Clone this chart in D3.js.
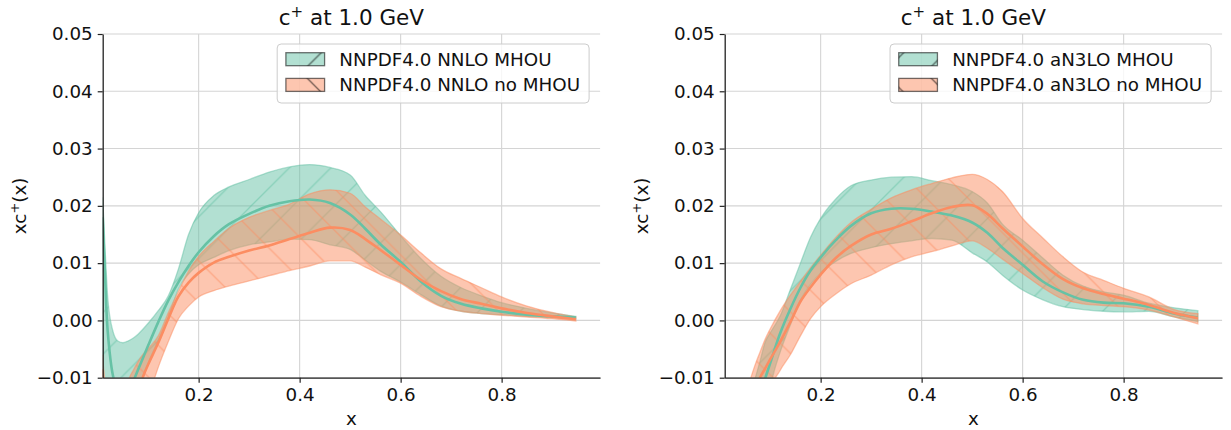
<!DOCTYPE html>
<html><head><meta charset="utf-8">
<script src="https://cdn.jsdelivr.net/npm/d3@7"></script>
<style>
body{margin:0;background:#fff}
text{font-family:"DejaVu Sans",sans-serif}
</style>
</head><body>
<svg id="c" width="1231" height="430"></svg>
<script>
// ---------------- data ----------------
const X_TICKS = [0.2, 0.4, 0.6, 0.8];
const Y_TICKS = [-0.01, 0.0, 0.01, 0.02, 0.03, 0.04, 0.05];
const TITLE_REST = "at 1.0 GeV";
const LEGEND_LEFT = ["NNPDF4.0 NNLO MHOU", "NNPDF4.0 NNLO no MHOU"];
const LEGEND_RIGHT = ["NNPDF4.0 aN3LO MHOU", "NNPDF4.0 aN3LO no MHOU"];

// left panel (NNLO)
const xLeft = [0.01,0.015,0.02,0.03,0.04,0.05,0.06,0.07,0.08,0.09,0.1,0.12,0.14,0.16,0.18,0.2,0.23,0.26,0.3,0.34,0.38,0.42,0.46,0.5,0.53,0.56,0.6,0.64,0.68,0.72,0.76,0.8,0.85,0.9,0.947];
const nnloMhouCentral = [0.018,0.007,-0.002,-0.0095,-0.0125,-0.0135,-0.013,-0.0108,-0.0086,-0.0065,-0.0044,-0.0003,0.0035,0.0067,0.0095,0.0119,0.0147,0.0168,0.0186,0.02,0.0208,0.0211,0.0205,0.0185,0.016,0.0133,0.0102,0.0068,0.0043,0.0029,0.0021,0.0015,0.001,0.0007,0.0005];
const nnloMhouUpper = [0.0215,0.012,0.004,-0.0018,-0.0036,-0.0039,-0.0036,-0.0031,-0.0024,-0.0015,-0.0005,0.0017,0.0043,0.009,0.015,0.0188,0.0218,0.0233,0.0246,0.0259,0.0268,0.0272,0.0267,0.0254,0.0218,0.019,0.0148,0.0108,0.0077,0.0057,0.0043,0.0031,0.0021,0.0013,0.0007];
const nnloMhouLower = [-0.03,-0.03,-0.03,-0.03,-0.028,-0.024,-0.018,-0.0135,-0.0118,-0.0098,-0.0075,-0.0035,0.0005,0.0055,0.0081,0.0097,0.011,0.0122,0.0132,0.0137,0.0142,0.0141,0.0132,0.0124,0.0105,0.0086,0.0067,0.0045,0.0025,0.0016,0.0012,0.001,0.0007,0.0005,0.0003];
const nnloNoMhouCentral = [-0.0085,-0.018,-0.025,-0.028,-0.028,-0.026,-0.022,-0.017,-0.0127,-0.0098,-0.0077,-0.0039,0.0003,0.0042,0.0066,0.0083,0.0101,0.0111,0.0122,0.0131,0.0142,0.0153,0.0162,0.0158,0.0142,0.0123,0.0097,0.0071,0.0051,0.0037,0.0029,0.0021,0.0013,0.0007,0.0002];
const nnloNoMhouUpper = [-0.006,-0.013,-0.019,-0.024,-0.022,-0.016,-0.0108,-0.0088,-0.0072,-0.0059,-0.0049,-0.0027,0.0014,0.0051,0.0086,0.0112,0.0138,0.0161,0.018,0.0192,0.0203,0.0221,0.0228,0.0222,0.0198,0.0177,0.0149,0.0118,0.009,0.0073,0.0057,0.0041,0.0025,0.0014,0.0006];
const nnloNoMhouLower = [-0.013,-0.025,-0.03,-0.03,-0.03,-0.03,-0.03,-0.026,-0.02,-0.016,-0.0135,-0.0082,-0.0037,0.0003,0.0025,0.0041,0.0052,0.006,0.0069,0.0078,0.0087,0.0095,0.0104,0.0104,0.0093,0.008,0.0065,0.0042,0.0024,0.0016,0.0012,0.0009,0.0006,0.0003,-0.0001];

// right panel (aN3LO)
const xRight = [0.03,0.05,0.06,0.07,0.08,0.09,0.1,0.12,0.14,0.16,0.18,0.2,0.23,0.26,0.3,0.34,0.38,0.42,0.46,0.5,0.53,0.56,0.6,0.64,0.68,0.72,0.76,0.8,0.85,0.9,0.947];
const n3loMhouCentral = [-0.04,-0.025,-0.021,-0.017,-0.0133,-0.0102,-0.0075,-0.0022,0.002,0.0057,0.0087,0.011,0.014,0.0165,0.0187,0.0195,0.0195,0.019,0.0183,0.0171,0.0153,0.0127,0.0097,0.0068,0.0049,0.0036,0.0031,0.003,0.0024,0.0012,0.0005];
const n3loMhouUpper = [-0.03,-0.016,-0.013,-0.0102,-0.0071,-0.0038,-0.0022,0.0008,0.0054,0.01,0.0145,0.0178,0.0212,0.0235,0.0245,0.025,0.0251,0.0244,0.0237,0.0225,0.0205,0.0168,0.014,0.0109,0.0079,0.006,0.005,0.0044,0.003,0.0022,0.0017];
const n3loMhouLower = [-0.05,-0.04,-0.035,-0.03,-0.025,-0.017,-0.0118,-0.0055,-0.0008,0.0035,0.0063,0.0083,0.0103,0.0117,0.0127,0.0134,0.0139,0.0143,0.014,0.0118,0.0102,0.0079,0.0053,0.0036,0.0024,0.0019,0.0016,0.0015,0.0016,0.0006,-0.0002];
const n3loNoMhouCentral = [-0.03,-0.018,-0.015,-0.0125,-0.01,-0.0084,-0.0068,-0.0037,-0.0003,0.0033,0.0058,0.008,0.0109,0.013,0.015,0.016,0.0173,0.0187,0.0198,0.0201,0.0186,0.0161,0.0129,0.0098,0.0072,0.0056,0.0046,0.0038,0.0027,0.0013,0.0004];
const n3loNoMhouUpper = [-0.025,-0.0135,-0.0105,-0.0078,-0.0055,-0.0033,-0.0015,0.0017,0.0044,0.0068,0.0092,0.0114,0.0145,0.0171,0.0194,0.0214,0.0228,0.0239,0.0249,0.0255,0.0246,0.0225,0.0178,0.0144,0.0111,0.0084,0.007,0.0056,0.0041,0.0019,0.0012];
const n3loNoMhouLower = [-0.04,-0.03,-0.027,-0.024,-0.021,-0.018,-0.0125,-0.0087,-0.006,-0.0027,0.0003,0.0024,0.0046,0.0064,0.0079,0.0097,0.0111,0.012,0.013,0.0139,0.0126,0.0107,0.0082,0.0057,0.0037,0.0029,0.0026,0.0024,0.0018,0.0006,-0.0006];

// ---------------- style / layout ----------------
const GREEN = "#66c2a5", ORANGE = "#fc8d62";
const X_DOMAIN = [0.01, 0.995];
const Y_DOMAIN = [-0.01, 0.05];
const Y_TOP = 34, Y_BOTTOM = 377.7;
const HATCH = 41.6;
const FS = 18.3;

const svg = d3.select("#c");
const defs = svg.append("defs");

function makeHatch(id, dir, color, op) {
  const S = HATCH;
  const p = defs.append("pattern").attr("id", id)
    .attr("patternUnits", "userSpaceOnUse")
    .attr("width", S).attr("height", S)
    .attr("x", dir === "/" ? S - 0.5 : 21).attr("y", 0);
  const d = dir === "/"
    ? `M0,${S}L${S},0M${-S/2},${S/2}L${S/2},${-S/2}M${S/2},${S*1.5}L${S*1.5},${S/2}`
    : `M0,0L${S},${S}M${S/2},${-S/2}L${S*1.5},${S/2}M${-S/2},${S/2}L${S/2},${S*1.5}`;
  p.append("path").attr("d", d).attr("fill", "none")
    .attr("stroke", color).attr("stroke-opacity", op).attr("stroke-width", 1.3);
}
makeHatch("hG", "/", GREEN, 0.55);
makeHatch("hO", "\\", ORANGE, 0.55);
makeHatch("hGk", "/", "#000", 0.55);
makeHatch("hOk", "\\", "#000", 0.55);

function drawPanel(cfg) {
  const x = d3.scaleLinear().domain(X_DOMAIN).range([cfg.x0, cfg.x1]);
  const y = d3.scaleLinear().domain(Y_DOMAIN).range([Y_BOTTOM, Y_TOP]);
  const clipId = "clip" + cfg.id;
  defs.append("clipPath").attr("id", clipId).append("rect")
    .attr("x", cfg.x0).attr("y", Y_TOP).attr("width", cfg.x1 - cfg.x0).attr("height", Y_BOTTOM - Y_TOP);

  // grid
  const grid = svg.append("g");
  grid.selectAll(".gx").data(X_TICKS).join("line")
    .attr("x1", d => x(d)).attr("x2", d => x(d)).attr("y1", Y_TOP).attr("y2", Y_BOTTOM)
    .attr("stroke", "#d4d4d4").attr("stroke-width", 1.1);
  grid.selectAll(".gy").data(Y_TICKS).join("line")
    .attr("y1", d => y(d)).attr("y2", d => y(d)).attr("x1", cfg.x0).attr("x2", cfg.x1)
    .attr("stroke", "#d4d4d4").attr("stroke-width", 1.1);

  const plot = svg.append("g").attr("clip-path", `url(#${clipId})`);
  const area = d3.area().x(d => x(d.x)).y0(d => y(d.lo)).y1(d => y(d.hi)).curve(d3.curveMonotoneX);
  const line = d3.line().x(d => x(d.x)).y(d => y(d.v)).curve(d3.curveCatmullRom.alpha(0.5));

  cfg.series.forEach(s => {
    const band = cfg.xs.map((xv, i) => ({x: xv, lo: s.lower[i], hi: s.upper[i]}));
    plot.append("path").attr("d", area(band)).attr("fill", s.color).attr("fill-opacity", 0.5)
      .attr("stroke", s.color).attr("stroke-opacity", 0.5).attr("stroke-width", 1.3);
    plot.append("path").attr("d", area(band)).attr("fill", `url(#${s.hatch})`).attr("stroke", "none");
  });
  cfg.series.forEach(s => {
    const c = cfg.xs.map((xv, i) => ({x: xv, v: s.central[i]}));
    plot.append("path").attr("d", line(c)).attr("fill", "none")
      .attr("stroke", s.color).attr("stroke-width", 2.6);
  });

  // axes
  const ax = svg.append("g").attr("transform", `translate(0,${Y_BOTTOM})`)
    .call(d3.axisBottom(x).tickValues(X_TICKS).tickFormat(d3.format(".1f")).tickSize(5).tickSizeOuter(0).tickPadding(5));
  const ay = svg.append("g").attr("transform", `translate(${cfg.x0},0)`)
    .call(d3.axisLeft(y).tickValues(Y_TICKS).tickFormat(d3.format(".2f")).tickSize(5).tickSizeOuter(0).tickPadding(5));
  [ax, ay].forEach(a => {
    a.select(".domain").attr("stroke", "#222").attr("stroke-width", 1.3);
    a.selectAll(".tick line").attr("stroke", "#222").attr("stroke-width", 1.2);
    a.selectAll(".tick text").attr("fill", "#111").style("font-size", FS + "px").style("font-family", "DejaVu Sans");
  });

  const cx = (cfg.x0 + cfg.x1) / 2;
  // title
  const t = svg.append("text").attr("x", cx).attr("y", 25).attr("text-anchor", "middle")
    .style("font-size", "21.5px").attr("fill", "#111");
  t.append("tspan").text("c");
  t.append("tspan").attr("dy", -8).style("font-size", "15px").text("+");
  t.append("tspan").attr("dy", 8).text(" " + TITLE_REST);
  // x label
  svg.append("text").attr("x", cx).attr("y", 425).attr("text-anchor", "middle")
    .style("font-size", FS + "px").attr("fill", "#111").text("x");
  // y label
  const yl = svg.append("text").attr("transform", `translate(${cfg.x0 - 77},${(Y_TOP + Y_BOTTOM) / 2}) rotate(-90)`)
    .attr("text-anchor", "middle").style("font-size", FS + "px").attr("fill", "#111");
  yl.append("tspan").text("xc");
  yl.append("tspan").attr("dy", -7).style("font-size", "13px").text("+");
  yl.append("tspan").attr("dy", 7).text("(x)");

  // legend
  const fs = 18.3;
  const lg = svg.append("g");
  const texts = cfg.series.map((s, i) => lg.append("text").attr("y", 59.3 + i * 25.7 + 6.3)
    .style("font-size", fs + "px").attr("fill", "#111").text(s.label));
  const tw = d3.max(texts, tt => tt.node().getComputedTextLength());
  const boxR = cfg.x1 - 11;
  const boxW = 8.7 + 38.7 + 14.7 + tw + 9;
  const boxL = boxR - boxW;
  lg.insert("rect", "text").attr("x", boxL).attr("y", 44).attr("width", boxW).attr("height", 59)
    .attr("rx", 4).attr("fill", "#fff").attr("fill-opacity", 0.8).attr("stroke", "#cccccc").attr("stroke-width", 1);
  texts.forEach(tt => tt.attr("x", boxL + 8.7 + 38.7 + 14.7));
  cfg.series.forEach((s, i) => {
    const py = 52.7 + i * 25.7;
    lg.append("rect").attr("x", boxL + 8.7).attr("y", py).attr("width", 38.7).attr("height", 13)
      .attr("fill", s.color).attr("fill-opacity", 0.5);
    lg.append("rect").attr("x", boxL + 8.7).attr("y", py).attr("width", 38.7).attr("height", 13)
      .attr("fill", `url(#${s.hatch}k)`).attr("stroke", "#000").attr("stroke-opacity", 0.55).attr("stroke-width", 1.3);
  });
}

drawPanel({id: "L", x0: 102.7, x1: 600.1, xs: xLeft, series: [
  {label: LEGEND_LEFT[0], color: GREEN, hatch: "hG", central: nnloMhouCentral, upper: nnloMhouUpper, lower: nnloMhouLower},
  {label: LEGEND_LEFT[1], color: ORANGE, hatch: "hO", central: nnloNoMhouCentral, upper: nnloNoMhouUpper, lower: nnloNoMhouLower}
]});
drawPanel({id: "R", x0: 724.7, x1: 1222.1, xs: xRight, series: [
  {label: LEGEND_RIGHT[0], color: GREEN, hatch: "hG", central: n3loMhouCentral, upper: n3loMhouUpper, lower: n3loMhouLower},
  {label: LEGEND_RIGHT[1], color: ORANGE, hatch: "hO", central: n3loNoMhouCentral, upper: n3loNoMhouUpper, lower: n3loNoMhouLower}
]});
</script>
</body></html>
